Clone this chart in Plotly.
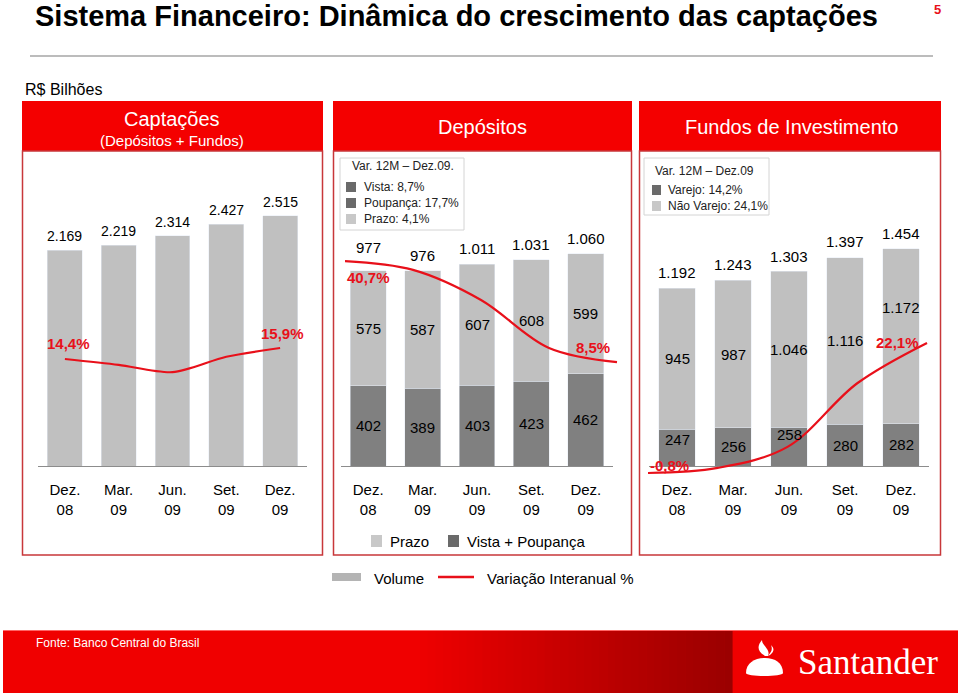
import plotly.graph_objects as go

W, H = 960, 696
def X(px): return px / W
def Y(py): return 1 - py / H

# ---------------- data ----------------
categories = ["Dez.<br>08", "Mar.<br>09", "Jun.<br>09", "Set.<br>09", "Dez.<br>09"]

capt_volume = [2169, 2219, 2314, 2427, 2515]
capt_growth = [14.4, 13.6, 12.6, 14.7, 15.9]

dep_vista_poup = [402, 389, 403, 423, 462]
dep_prazo = [575, 587, 607, 608, 599]
dep_total = [977, 976, 1011, 1031, 1060]
dep_growth = [40.7, 37.9, 28.3, 13.0, 8.5]

fund_varejo = [247, 256, 258, 280, 282]
fund_nao_varejo = [945, 987, 1046, 1116, 1172]
fund_total = [1192, 1243, 1303, 1397, 1454]
fund_growth = [-0.8, 0.1, 3.8, 15.0, 22.1]

dep_legend = ["Var. 12M – Dez.09.", "Vista: 8,7%", "Poupança: 17,7%", "Prazo: 4,1%"]
fund_legend = ["Var. 12M – Dez.09", "Varejo: 14,2%", "Não Varejo: 24,1%"]

# ---------------- styling ----------------
LIGHT = "#c0c0c0"
DARK = "#808080"
RED = "#e8101a"
FONT = "Liberation Sans, Arial, sans-serif"

def fmt(v):
    return f"{v:,}".replace(",", ".")

def pct(v):
    return f"{v:.1f}%".replace(".", ",")

fig = go.Figure()

# Panel 1 : Captações
fig.add_trace(go.Bar(x=categories, y=capt_volume, marker_color=LIGHT, width=0.65,
                     xaxis="x", yaxis="y", showlegend=False, hoverinfo="skip"))
fig.add_trace(go.Scatter(x=categories, y=capt_growth, mode="lines",
                         line=dict(color=RED, width=2.2, shape="spline", smoothing=0.8),
                         xaxis="x", yaxis="y4", showlegend=False, hoverinfo="skip"))

# Panel 2 : Depósitos
fig.add_trace(go.Bar(x=categories, y=dep_vista_poup, marker_color=DARK, width=0.66,
                     xaxis="x2", yaxis="y2", showlegend=False, hoverinfo="skip"))
fig.add_trace(go.Bar(x=categories, y=dep_prazo, marker_color=LIGHT, width=0.66,
                     xaxis="x2", yaxis="y2", showlegend=False, hoverinfo="skip"))
fig.add_trace(go.Scatter(x=categories, y=dep_growth, mode="lines",
                         line=dict(color=RED, width=2.2, shape="spline", smoothing=1.0),
                         xaxis="x5", yaxis="y5", showlegend=False, hoverinfo="skip"))

# Panel 3 : Fundos
fig.add_trace(go.Bar(x=categories, y=fund_varejo, marker_color=DARK, width=0.66,
                     xaxis="x3", yaxis="y3", showlegend=False, hoverinfo="skip"))
fig.add_trace(go.Bar(x=categories, y=fund_nao_varejo, marker_color=LIGHT, width=0.66,
                     xaxis="x3", yaxis="y3", showlegend=False, hoverinfo="skip"))
fig.add_trace(go.Scatter(x=categories, y=fund_growth, mode="lines",
                         line=dict(color=RED, width=2.2, shape="spline", smoothing=1.0),
                         xaxis="x6", yaxis="y6", showlegend=False, hoverinfo="skip"))

bar_x = dict(type="category", range=[-0.5, 4.5], showline=True, linecolor="#8c8c8c",
             linewidth=1, ticks="", showgrid=False, zeroline=False, ticklabelstandoff=10,
             tickfont=dict(family=FONT, size=15, color="black"), fixedrange=True,
             categoryorder="array", categoryarray=categories)
hidden = dict(visible=False, showgrid=False, zeroline=False, fixedrange=True)
hidden_x = dict(hidden, type="category", categoryorder="array", categoryarray=categories)

fig.update_layout(
    width=W, height=H, margin=dict(l=0, r=0, t=0, b=0),
    paper_bgcolor="white", plot_bgcolor="rgba(0,0,0,0)",
    barmode="stack", showlegend=False,
    font=dict(family=FONT, color="black"),
    xaxis=dict(bar_x, domain=[X(38), X(307)], anchor="y"),
    yaxis=dict(hidden, domain=[Y(466), Y(160)], range=[0, 3075], anchor="x"),
    yaxis4=dict(hidden, overlaying="y", range=[-0.2, 41.54], anchor="x"),
    xaxis2=dict(bar_x, domain=[X(341), X(613)], anchor="y2"),
    yaxis2=dict(hidden, domain=[Y(466), Y(160)], range=[0, 1530], anchor="x2"),
    xaxis3=dict(bar_x, domain=[X(649), X(929)], anchor="y3"),
    yaxis3=dict(hidden, domain=[Y(466), Y(160)], range=[0, 2050], anchor="x3"),
    xaxis5=dict(hidden_x, domain=[X(311), X(651)], range=[-0.5, 4.5], anchor="y5"),
    yaxis5=dict(hidden, domain=[Y(500), Y(160)], range=[-35.5, 72.96], anchor="x5"),
    xaxis6=dict(hidden_x, domain=[X(576), 1.0], range=[-1.032, 4.473], anchor="y6"),
    yaxis6=dict(hidden, domain=[Y(500), Y(160)], range=[-5.55, 54.3], anchor="x6"),
)

ann = []
def text(x, y, t, size=15, color="black", xanchor="center", yanchor="middle", bold=False,
         family=FONT, xref="paper", yref="paper", xshift=0, yshift=0):
    if bold:
        t = f"<b>{t}</b>"
    ann.append(dict(x=x, y=y, text=t, showarrow=False, xref=xref, yref=yref,
                    xanchor=xanchor, yanchor=yanchor, xshift=xshift, yshift=yshift,
                    font=dict(size=size, color=color, family=family)))

# bar value labels
for c, v in zip(categories, capt_volume):
    text(c, v, fmt(v), size=14, xref="x", yref="y", yanchor="bottom", yshift=4)

dep_total_nudge = {0: 8}
for i, (c, a, b, t) in enumerate(zip(categories, dep_vista_poup, dep_prazo, dep_total)):
    text(c, t, fmt(t), size=15, xref="x2", yref="y2", yanchor="bottom", yshift=5 + dep_total_nudge.get(i, 0))
    text(c, a + b / 2, fmt(b), size=15, xref="x2", yref="y2")
    text(c, a / 2, fmt(a), size=15, xref="x2", yref="y2")

fund_top_nudge = {4: 29}
fund_low_nudge = {0: 8, 2: 12}
for i, (c, a, b, t) in enumerate(zip(categories, fund_varejo, fund_nao_varejo, fund_total)):
    text(c, t, fmt(t), size=15, xref="x3", yref="y3", yanchor="bottom", yshift=5)
    text(c, a + b / 2, fmt(b), size=15, xref="x3", yref="y3", yshift=fund_top_nudge.get(i, 0))
    text(c, a / 2, fmt(a), size=15, xref="x3", yref="y3", yshift=fund_low_nudge.get(i, 0))

# growth labels (first & last)
text(categories[0], capt_growth[0], pct(capt_growth[0]), 15, RED, bold=True, xref="x", yref="y4", xshift=4, yshift=15)
text(categories[-1], capt_growth[-1], pct(capt_growth[-1]), 15, RED, bold=True, xref="x", yref="y4", xshift=2, yshift=14)
text(categories[0], dep_growth[0], pct(dep_growth[0]), 15, RED, bold=True, xref="x5", yref="y5", xshift=23, yshift=-16)
text(categories[-1], dep_growth[-1], pct(dep_growth[-1]), 15, RED, bold=True, xref="x5", yref="y5", xshift=-24, yshift=15)
text(categories[0], fund_growth[0], pct(fund_growth[0]), 15, RED, bold=True, xref="x6", yref="y6", xshift=22, yshift=8)
text(categories[-1], fund_growth[-1], pct(fund_growth[-1]), 15, RED, bold=True, xref="x6", yref="y6", xshift=-30, yshift=0)

# titles & headers
text(X(33), Y(16), "Sistema Financeiro: Dinâmica do crescimento das captações", 29, "black",
     xanchor="left", bold=True)
text(X(937), Y(9), "5", 13, RED, bold=True)
text(X(23), Y(89), "R$ Bilhões", 16, "black", xanchor="left")
text(X(172), Y(119), "Captações", 20, "white")
text(X(172), Y(140), "(Depósitos + Fundos)", 15, "white")
text(X(482), Y(127), "Depósitos", 20, "white")
text(X(791), Y(127), "Fundos de Investimento", 20, "white")

# inset legends
text(X(350), Y(166), dep_legend[0], 12, "#222", xanchor="left")
for t, py in zip(dep_legend[1:], [187, 203, 219]):
    text(X(362), Y(py), t, 12, "#222", xanchor="left")
text(X(653), Y(171), fund_legend[0], 12, "#222", xanchor="left")
for t, py in zip(fund_legend[1:], [190, 206]):
    text(X(666), Y(py), t, 12, "#222", xanchor="left")

# panel 2 bottom legend
text(X(388), Y(541), "Prazo", 15, "black", xanchor="left")
text(X(465), Y(541), "Vista + Poupança", 15, "black", xanchor="left")

# global legend
text(X(372), Y(578), "Volume", 15, "black", xanchor="left")
text(X(485), Y(578), "Variação Interanual %", 15, "black", xanchor="left")

# footer
text(X(34), Y(643), "Fonte: Banco Central do Brasil", 12, "white", xanchor="left")
text(X(868), Y(662), "Santander", 35, "white", family="Liberation Serif, DejaVu Serif, serif")

fig.update_layout(annotations=ann)

shapes = []
def rect(x0, y0, x1, y1, fill=None, line=None, lw=0, layer="below"):
    shapes.append(dict(type="rect", xref="paper", yref="paper", x0=X(x0), x1=X(x1),
                       y0=Y(y1), y1=Y(y0), fillcolor=fill or "rgba(0,0,0,0)",
                       line=dict(color=line or "rgba(0,0,0,0)", width=lw), layer=layer))

def seg(x0, y0, x1, y1, color, width):
    shapes.append(dict(type="line", xref="paper", yref="paper", x0=X(x0), x1=X(x1),
                       y0=Y(y0), y1=Y(y1), line=dict(color=color, width=width)))

def path(cmds, fill):
    s = ""
    for cmd, pts in cmds:
        s += cmd + " " + " ".join(f"{X(px):.5f},{Y(py):.5f}" for px, py in pts) + " "
    shapes.append(dict(type="path", xref="paper", yref="paper", path=s + "Z",
                       fillcolor=fill, line=dict(width=0), layer="above"))

# title underline
seg(30, 56, 933, 56, "#a6a6a6", 1.5)

# panel headers and bodies
HEADER = "#f40000"
BORDER = "#c8373a"
for x0, x1 in [(22, 323), (333, 632), (639, 941)]:
    rect(x0, 101, x1, 151, fill=HEADER)
    rect(x0 + 0.5, 151, x1 - 0.5, 555, line=BORDER, lw=1.5)

# inset legend boxes
rect(340, 158, 464, 230, fill="white", line="#d4d4d4", lw=1)
rect(346, 182, 356, 192, fill="#6a6a6a")
rect(346, 198, 356, 208, fill="#6a6a6a")
rect(346, 214, 356, 224, fill="#c8c8c8")
rect(644, 158, 769, 215, fill="white", line="#d4d4d4", lw=1)
rect(652, 185, 661, 195, fill="#6a6a6a")
rect(652, 201, 661, 211, fill="#c8c8c8")

# panel 2 bottom legend squares
rect(371, 535, 382, 547, fill="#c8c8c8")
rect(448, 535, 459, 547, fill="#6a6a6a")

# global legend markers
rect(332, 573, 361, 581, fill="#b4b4b4")
seg(438, 577, 474, 577, RED, 2.5)
path([("M", [(456, 573)]), ("L", [(460, 577), (456, 581), (452, 577)])], RED)

# footer band with gradient
rect(3, 630, 958, 693, fill="#f00000")
N = 40
gx0, gx1 = 420, 732
for i in range(N):
    t = (i + 1) / N
    r = int(240 - 85 * t)
    rect(gx0 + (gx1 - gx0) * i / N, 630, gx0 + (gx1 - gx0) * (i + 1) / N + 0.6, 693,
         fill=f"rgb({r},0,0)")
seg(3, 630.5, 958, 630.5, "#f66", 1)

# Santander flame logo
path([("M", [(746, 673)]), ("C", [(746, 663), (755, 658), (765, 658)]),
      ("C", [(775, 658), (783, 663), (783, 673)]),
      ("C", [(783, 677), (746, 677), (746, 673)])], "white")
path([("M", [(765, 656)]), ("C", [(757, 651), (757, 646), (762, 640)]),
      ("C", [(762, 646), (771, 649), (768, 656)])], "white")
path([("M", [(770, 655)]), ("C", [(775, 651), (774, 648), (771, 645)]),
      ("C", [(773, 650), (771, 652), (768, 656)])], "white")

fig.update_layout(shapes=shapes)
fig.write_html("out.html", config={"displayModeBar": False},
               post_script="document.body.style.margin='0';")
